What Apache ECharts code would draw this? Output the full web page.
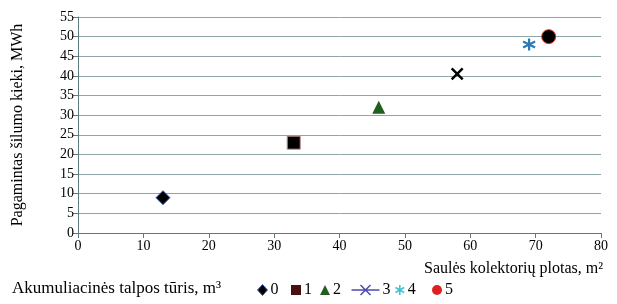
<!DOCTYPE html>
<html>
<head>
<meta charset="utf-8">
<script src="https://cdn.jsdelivr.net/npm/echarts@6/dist/echarts.min.js"></script>
<style>
  html, body { margin: 0; padding: 0; background: #fff; }
  #chart { width: 617px; height: 304px; }
</style>
</head>
<body>
<div id="chart"></div>
<script>
// storage tank volume, m3 -> (collector area m2, heat produced MWh)
const seriesNames = ['0', '1', '2', '3', '4', '5']
const collectorArea = [13, 33, 46, 58, 69, 72]
const heatProduced = [9, 23, 32, 40.5, 48, 50]

const FONT = 'Liberation Serif'
const xPath = 'path://M0,0L10,10M10,0L0,10'
const starPath = 'path://M5,0L5,10M0.7,2.5L9.3,7.5M9.3,2.5L0.7,7.5'

// marker looks in the plot
const markers = [
  { symbol: 'diamond', size: 14, itemStyle: { color: '#000', borderColor: '#3b5bb5', borderWidth: 1, opacity: 1 } },
  { symbol: 'rect', size: 13, itemStyle: { color: '#000', borderColor: '#c08888', borderWidth: 1, opacity: 1 } },
  { symbol: 'triangle', size: 13, itemStyle: { color: '#1f5f1f', opacity: 1 } },
  { symbol: xPath, size: 11, itemStyle: { color: 'none', borderColor: '#000', borderWidth: 2.5, opacity: 1 } },
  { symbol: starPath, size: 12, itemStyle: { color: 'none', borderColor: '#2a7ab8', borderWidth: 2.2, opacity: 1 } },
  { symbol: 'circle', size: 14, itemStyle: { color: '#000', borderColor: '#e03020', borderWidth: 1, opacity: 1 } }
]

// legend icon looks (they differ from the plot markers)
const legendIcons = [
  { icon: 'diamond', w: 10, h: 11, left: 257, itemStyle: { color: '#000', borderColor: '#3b5bb5', borderWidth: 1, opacity: 1 } },
  { icon: 'rect', w: 10, h: 10, left: 291, itemStyle: { color: '#4a1010', borderWidth: 0, opacity: 1 } },
  { icon: 'triangle', w: 10, h: 10, left: 320, itemStyle: { color: '#1f5f1f', borderWidth: 0, opacity: 1 } },
  { icon: 'path://M0,5L28,5M9,0L19,10M19,0L9,10', w: 28, h: 10, left: 349, itemStyle: { color: 'none', borderColor: '#4b4bb0', borderWidth: 1.5, opacity: 1 } },
  { icon: starPath, w: 10, h: 10, left: 393, itemStyle: { color: 'none', borderColor: '#40c0d0', borderWidth: 1.5, opacity: 1 } },
  { icon: 'circle', w: 10, h: 10, left: 432, itemStyle: { color: '#e02020', borderWidth: 0, opacity: 1 } }
]

const chart = echarts.init(document.getElementById('chart'), null, { renderer: 'canvas' })

const axisColor = '#5f7a7c'
const gridColor = '#8fa5a7'

chart.setOption({
  animation: false,
  textStyle: { fontFamily: FONT },
  grid: { left: 78, right: 16, top: 17, bottom: 71 },
  xAxis: {
    type: 'value',
    min: 0, max: 80, interval: 10,
    axisLine: { lineStyle: { color: axisColor } },
    axisTick: { show: true, length: 5, lineStyle: { color: axisColor } },
    axisLabel: { color: '#000', fontSize: 14, fontFamily: FONT, margin: 6 },
    splitLine: { show: false }
  },
  yAxis: {
    type: 'value',
    min: 0, max: 55, interval: 5,
    name: 'Pagamintas šilumo kieki, MWh',
    nameLocation: 'middle',
    nameGap: 52,
    nameTextStyle: { color: '#000', fontSize: 16, fontFamily: FONT },
    axisLine: { show: true, lineStyle: { color: axisColor } },
    axisTick: { show: true, length: 5, lineStyle: { color: axisColor } },
    axisLabel: { color: '#000', fontSize: 14, fontFamily: FONT, margin: 4 },
    splitLine: { lineStyle: { color: gridColor, width: 1 } }
  },
  legend: seriesNames.map((n, i) => ({
    data: [{ name: n, icon: legendIcons[i].icon, itemStyle: legendIcons[i].itemStyle }],
    left: legendIcons[i].left,
    top: 282,
    itemWidth: legendIcons[i].w,
    itemHeight: legendIcons[i].h,
    itemGap: 4,
    padding: 0,
    textStyle: { color: '#000', fontSize: 16, fontFamily: FONT, padding: [3, 0, 0, -2] }
  })),
  graphic: [
    {
      type: 'text', right: 14, top: 261,
      style: { text: 'Saulės kolektorių plotas, m²', fill: '#000', font: '16px "Liberation Serif"' }
    },
    {
      type: 'text', left: 12, top: 280,
      style: { text: 'Akumuliacinės talpos tūris, m³', fill: '#000', font: '17px "Liberation Serif"' }
    }
  ],
  series: seriesNames.map((n, i) => ({
    name: n,
    type: 'scatter',
    symbol: markers[i].symbol,
    symbolSize: markers[i].size,
    itemStyle: markers[i].itemStyle,
    emphasis: { disabled: true },
    data: [[collectorArea[i], heatProduced[i]]]
  }))
})
</script>
</body>
</html>
